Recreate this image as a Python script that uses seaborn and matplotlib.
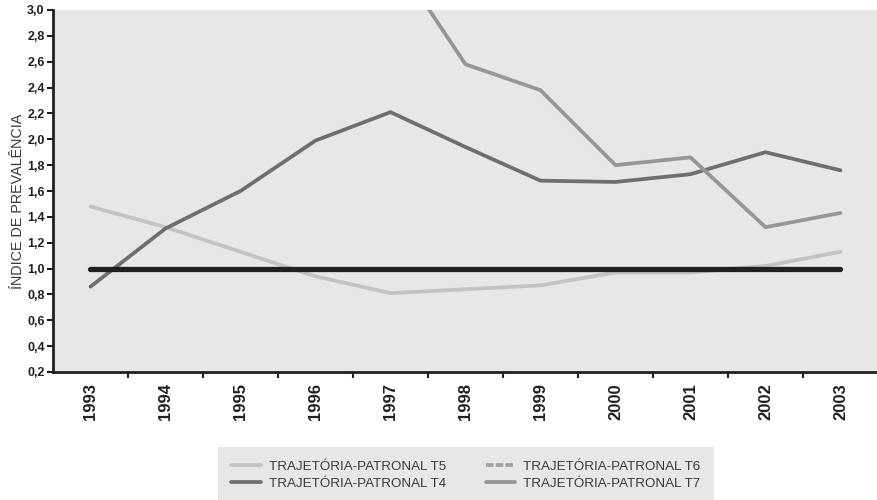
import matplotlib
matplotlib.use("Agg")
import matplotlib.pyplot as plt
import seaborn as sns
import pandas as pd
import numpy as np
from matplotlib.lines import Line2D

years = [1993, 1994, 1995, 1996, 1997, 1998, 1999, 2000, 2001, 2002, 2003]
t5 = [1.48, 1.32, 1.13, 0.94, 0.81, 0.84, 0.87, 0.97, 0.97, 1.02, 1.13]
t4 = [0.86, 1.31, 1.60, 1.99, 2.21, 1.94, 1.68, 1.67, 1.73, 1.90, 1.76]
t7 = [None, None, None, None, 3.45, 2.58, 2.38, 1.80, 1.86, 1.32, 1.43]
t6 = [None] * 11
reference = [1.0] * 11
y_ticks = [0.2, 0.4, 0.6, 0.8, 1.0, 1.2, 1.4, 1.6, 1.8, 2.0, 2.2, 2.4, 2.6, 2.8, 3.0]
labels = ["TRAJETÓRIA-PATRONAL T5", "TRAJETÓRIA-PATRONAL T4",
          "TRAJETÓRIA-PATRONAL T6", "TRAJETÓRIA-PATRONAL T7"]

sns.set_theme(style="white")
plt.rcParams['font.family'] = ['Liberation Sans', 'DejaVu Sans']

c_t5 = "#c2c3c5"
c_t4 = "#6d6e71"
c_t6 = "#a0a1a3"
c_t7 = "#959698"
bg = "#e6e7e9"

fig = plt.figure(figsize=(8.78, 5.0), dpi=100)
ax = fig.add_axes([53 / 878, 1 - 372 / 500, 1 - 53 / 878, (372 - 10) / 500])
ax.set_facecolor(bg)

df = pd.DataFrame({"year": years, "t5": t5, "t4": t4,
                   "t7": pd.array(t7, dtype="Float64").astype(float),
                   "ref": reference})

lw = 2.7
sns.lineplot(data=df, x="year", y="t5", ax=ax, color=c_t5, lw=lw,
             solid_capstyle="round")
sns.lineplot(data=df, x="year", y="t4", ax=ax, color=c_t4, lw=lw,
             solid_capstyle="round")
sns.lineplot(data=df.dropna(subset=["t7"]), x="year", y="t7", ax=ax,
             color=c_t7, lw=lw, solid_capstyle="round")
sns.lineplot(data=df, x="year", y="ref", ax=ax, color="#231f20", lw=3.8,
             solid_capstyle="round")

ax.set_xlim(1992.5, 2003.5)
ax.set_ylim(0.2, 3.0)
ax.set_xticks(years)
ax.set_xticklabels([str(y) for y in years], rotation=90, fontsize=12,
                   fontweight="bold", color="#231f20")
ax.set_xticks([y + 0.5 for y in years[:-1]], minor=True)
ax.tick_params(axis="x", which="major", length=0, pad=8)
ax.tick_params(axis="x", which="minor", length=4, width=1.5, color="#231f20",
               direction="out", bottom=True)
ax.set_yticks(y_ticks)
ax.set_yticklabels([f"{v:.1f}".replace(".", ",") for v in y_ticks],
                   fontsize=9, fontweight="bold", color="#231f20",
                   family=['Liberation Sans Narrow', 'Liberation Sans'])
ax.tick_params(axis="y", length=4, width=1.5, color="#231f20",
               direction="out", left=True, pad=2)
ax.set_xlabel("")
ax.set_ylabel("ÍNDICE DE PREVALÊNCIA", fontsize=10.4, color="#3a3a3c")
ax.yaxis.set_label_coords((18 - 53) / 825, (372 - 201) / 362)
ax.yaxis.label.set_verticalalignment("center")

for s in ["top", "right"]:
    ax.spines[s].set_visible(False)
for s in ["left", "bottom"]:
    ax.spines[s].set_color("#231f20")
    ax.spines[s].set_linewidth(2)

handles = [
    Line2D([], [], color=c_t5, lw=2.7),
    Line2D([], [], color=c_t4, lw=2.7),
    Line2D([], [], color=c_t6, lw=2.7, linestyle=(0, (2, 0.6))),
    Line2D([], [], color=c_t7, lw=2.7),
]
leg = fig.legend(handles, labels, ncol=2, loc="center",
                 bbox_to_anchor=(466 / 878, 1 - 475 / 500),
                 fontsize=9.6, frameon=True, fancybox=False,
                 facecolor=bg, edgecolor=bg, framealpha=1,
                 handlelength=2.2, handletextpad=0.6, columnspacing=3.0,
                 labelspacing=0.35, borderpad=1.0, borderaxespad=0)
for t in leg.get_texts():
    t.set_color("#3a3a3c")
leg.get_frame().set_linewidth(0)

fig.savefig("out.png", dpi=100)
